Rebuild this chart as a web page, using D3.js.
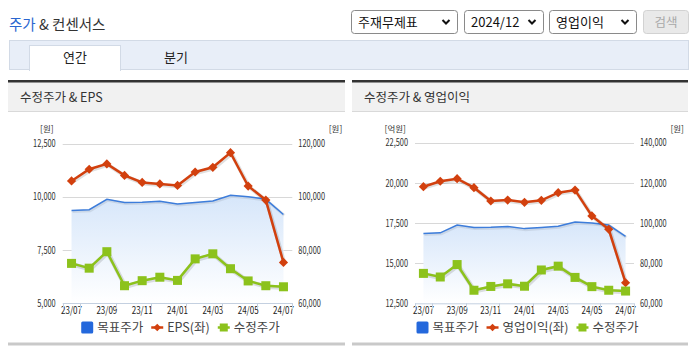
<!DOCTYPE html>
<html><head><meta charset="utf-8">
<script src="https://cdn.jsdelivr.net/npm/d3@7/dist/d3.min.js"></script>
<style>
html,body{margin:0;padding:0;background:#fff;}
svg{display:block;}
text{font-family:"Noto Sans CJK KR","Noto Sans",sans-serif;}
</style></head>
<body>
<svg id="c" width="695" height="349"></svg>
<script>
// ---------- data ----------
const categories = ["23/07","23/08","23/09","23/10","23/11","23/12","24/01","24/02","24/03","24/04","24/05","24/06","24/07"];
const targetPrice = [94800, 95100, 99000, 97800, 97900, 98300, 97200, 97800, 98400, 100500, 100000, 99000, 93300];
const adjPrice    = [74900, 73100, 79300, 66500, 68400, 69700, 68500, 76600, 78500, 72900, 68300, 66500, 66100];
const eps         = [10740, 11290, 11540, 11000, 10670, 10600, 10530, 11160, 11380, 12070, 10500, 9840, 6910];
const opIncome    = [19760, 20100, 20260, 19700, 18870, 18930, 18790, 18910, 19390, 19550, 17940, 17110, 13780];
const epsTicks = [5000, 7500, 10000, 12500];
const priceTicksA = [60000, 80000, 100000, 120000];
const opTicks = [12500, 15000, 17500, 20000, 22500];
const priceTicksB = [60000, 80000, 100000, 120000, 140000];
const xLabels = ["23/07","23/09","23/11","24/01","24/03","24/05","24/07"];
const selectTexts = ["주재무제표", "2024/12", "영업이익"];
const tabs = ["연간", "분기"];

const svg = d3.select("#c");
const fmt = d3.format(",");

function narrow(sel, f){
  sel.each(function(){
    const w = this.getComputedTextLength();
    this.setAttribute("textLength", (w*f).toFixed(2));
    this.setAttribute("lengthAdjust", "spacingAndGlyphs");
  });
}
const diamond = r => `M0,${-r} L${r},0 L0,${r} L${-r},0 Z`;

// ---------- header ----------
const title = svg.append("text").attr("x", 9).attr("y", 30).attr("font-size", 14.5).attr("fill", "#333");
title.append("tspan").attr("fill", "#2a66d0").text("주가");
title.append("tspan").text(" & 컨센서스");

const selBoxes = [[351, 106], [464, 79], [549, 87]];
selBoxes.forEach((b, i) => {
  const g = svg.append("g");
  g.append("rect").attr("x", b[0] + 0.5).attr("y", 10.5).attr("width", b[1]).attr("height", 23)
    .attr("rx", 3).attr("fill", "#fff").attr("stroke", "#8a8a8a");
  g.append("text").attr("x", b[0] + 7).attr("y", 27).attr("font-size", 13).attr("fill", "#111").text(selectTexts[i]);
  const cx = b[0] + b[1] - 11;
  g.append("path").attr("d", `M${cx-3.5},${20} L${cx},${23.5} L${cx+3.5},${20}`)
    .attr("fill", "none").attr("stroke", "#111").attr("stroke-width", 2);
});
svg.append("rect").attr("x", 643.5).attr("y", 10.5).attr("width", 45).attr("height", 23).attr("rx", 3)
  .attr("fill", "#e9e9e9").attr("stroke", "#d2d2d2");
svg.append("text").attr("x", 666).attr("y", 27).attr("text-anchor", "middle").attr("font-size", 12.5)
  .attr("fill", "#a8a8a8").text("검색");

// tab bar
svg.append("rect").attr("x", 9.5).attr("y", 40.5).attr("width", 679).attr("height", 29)
  .attr("fill", "#e8eef8").attr("stroke", "#d2dae6");
svg.append("rect").attr("x", 29.5).attr("y", 45.5).attr("width", 91).attr("height", 25)
  .attr("fill", "#fff").attr("stroke", "#d2dae6");
svg.append("rect").attr("x", 30).attr("y", 69).attr("width", 90).attr("height", 3).attr("fill", "#fff");
svg.append("text").attr("x", 75).attr("y", 62).attr("text-anchor", "middle").attr("font-size", 13).attr("fill", "#222").text(tabs[0]);
svg.append("text").attr("x", 176).attr("y", 62).attr("text-anchor", "middle").attr("font-size", 13).attr("fill", "#222").text(tabs[1]);

// gradient for area
const defs = svg.append("defs");
const grad = defs.append("linearGradient").attr("id", "ag").attr("x1", 0).attr("y1", 0).attr("x2", 0).attr("y2", 1);
grad.append("stop").attr("offset", "0%").attr("stop-color", "#d6e6fa");
grad.append("stop").attr("offset", "100%").attr("stop-color", "#ffffff");

// ---------- chart ----------
function drawPanel(cfg){
  const g = svg.append("g");
  // panel header
  g.append("rect").attr("x", cfg.px).attr("y", 80).attr("width", cfg.pw).attr("height", 31).attr("fill", "#f1f1f1");
  g.append("rect").attr("x", cfg.px).attr("y", 80).attr("width", cfg.pw).attr("height", 2.5).attr("fill", "#333");
  g.append("rect").attr("x", cfg.px).attr("y", 111).attr("width", cfg.pw).attr("height", 1).attr("fill", "#d9d9d9");
  g.append("text").attr("x", cfg.px + 12).attr("y", 102).attr("font-size", 12.5).attr("fill", "#333").text(cfg.title);
  g.append("rect").attr("x", cfg.px).attr("y", 342.5).attr("width", cfg.pw).attr("height", 3).attr("fill", "#c9c9c9");

  const x = d3.scaleBand().domain(categories).range([cfg.x0, cfg.x1]).padding(0);
  const cx = d => x(d) + x.bandwidth()/2;
  const yL = d3.scaleLinear().domain(cfg.leftDomain).range([cfg.yBottom, cfg.yTop]);
  const yR = d3.scaleLinear().domain(cfg.rightDomain).range([cfg.yBottom, cfg.yTop]);

  // grid
  g.append("g").selectAll("line").data(cfg.leftTicks.slice(1)).join("line")
    .attr("x1", cfg.x0).attr("x2", cfg.x1).attr("y1", d => Math.round(yL(d)) + 0.5).attr("y2", d => Math.round(yL(d)) + 0.5)
    .attr("stroke", "#d8d8d8");

  // axis labels
  const la = g.append("g").attr("transform", `translate(${cfg.x0 - 7},0)`)
    .call(d3.axisLeft(yL).tickValues(cfg.leftTicks).tickFormat(fmt).tickSize(0).tickPadding(0));
  la.select(".domain").remove();
  la.selectAll("text").attr("font-size", 10).attr("fill", "#333").attr("font-family", "Liberation Sans, Arial, sans-serif");
  narrow(la.selectAll("text"), 0.74);
  const ra = g.append("g").attr("transform", `translate(${cfg.x1 + 6},0)`)
    .call(d3.axisRight(yR).tickValues(cfg.rightTicks).tickFormat(fmt).tickSize(0).tickPadding(0));
  ra.select(".domain").remove();
  ra.selectAll("text").attr("font-size", 10).attr("fill", "#333").attr("font-family", "Liberation Sans, Arial, sans-serif");
  narrow(ra.selectAll("text"), 0.74);

  // units
  g.append("text").attr("x", cfg.x0 - 9).attr("y", 132).attr("text-anchor", "end").attr("font-size", 8.5).attr("fill", "#333").text(cfg.leftUnit);
  g.append("text").attr("x", cfg.x1 + 50).attr("y", 132).attr("text-anchor", "end").attr("font-size", 8.5).attr("fill", "#333").text(cfg.rightUnit);

  // area + target price line
  const area = d3.area().x(d => cx(d[0])).y0(cfg.yBottom).y1(d => yR(d[1]));
  const pairsT = categories.map((c, i) => [c, targetPrice[i]]);
  g.append("path").datum(pairsT).attr("d", area).attr("fill", "url(#ag)");
  const line = s => d3.line().x(d => cx(d[0])).y(d => s(d[1]));
  g.append("path").datum(pairsT).attr("d", line(yR)).attr("fill", "none")
    .attr("stroke", "rgba(0,0,0,0.08)").attr("stroke-width", 3).attr("transform", "translate(1,1)");
  g.append("path").datum(pairsT).attr("d", line(yR)).attr("fill", "none").attr("stroke", "#3d7ddb").attr("stroke-width", 1.5);

  // x axis
  const xa = g.append("g").attr("transform", `translate(0,${cfg.yBottom})`)
    .call(d3.axisBottom(x).tickValues(xLabels).tickSize(0).tickPadding(4));
  xa.select(".domain").remove();
  xa.selectAll("text").attr("font-size", 10).attr("fill", "#222").attr("font-family", "Liberation Sans, Arial, sans-serif");
  narrow(xa.selectAll("text"), 0.8);
  g.append("line").attr("x1", cfg.x0).attr("x2", cfg.x1).attr("y1", cfg.yBottom + 0.5).attr("y2", cfg.yBottom + 0.5).attr("stroke", "#c4d0e0");
  const tickCats = categories.filter((c, i) => i % 2 === 1);
  const tickXs = [cfg.x0].concat(tickCats.map(c => x(c))).concat([cfg.x1]);
  g.append("g").selectAll("line").data(tickXs).join("line")
    .attr("x1", d => Math.round(d) + 0.5).attr("x2", d => Math.round(d) + 0.5)
    .attr("y1", cfg.yBottom).attr("y2", cfg.yBottom + 6).attr("stroke", "#c4d0e0");

  // left-axis series (red)
  const pairsL = categories.map((c, i) => [c, cfg.leftSeries[i]]);
  g.append("path").datum(pairsL).attr("d", line(yL)).attr("fill", "none")
    .attr("stroke", "rgba(0,0,0,0.12)").attr("stroke-width", 4).attr("transform", "translate(1,1)");
  g.append("path").datum(pairsL).attr("d", line(yL)).attr("fill", "none").attr("stroke", "#d2400e").attr("stroke-width", 2.5);
  g.append("g").selectAll("path").data(pairsL).join("path")
    .attr("d", diamond(4.6)).attr("fill", "#d2400e")
    .attr("transform", d => `translate(${cx(d[0])},${yL(d[1])})`);

  // adjusted price (green)
  const pairsA = categories.map((c, i) => [c, adjPrice[i]]);
  g.append("path").datum(pairsA).attr("d", line(yR)).attr("fill", "none")
    .attr("stroke", "rgba(0,0,0,0.12)").attr("stroke-width", 4.5).attr("transform", "translate(1,1)");
  g.append("path").datum(pairsA).attr("d", line(yR)).attr("fill", "none").attr("stroke", "#8cc21c").attr("stroke-width", 2.5);
  g.append("g").selectAll("rect").data(pairsA).join("rect")
    .attr("x", d => cx(d[0]) - 4.5).attr("y", d => yR(d[1]) - 4.5).attr("width", 9).attr("height", 9).attr("fill", "#8cc21c");

  // legend
  const lg = g.append("g");
  const items = [{t: "목표주가", k: "sq"}, {t: cfg.leftName, k: "dia"}, {t: "수정주가", k: "gr"}];
  let xx = 0;
  const ly = 327.5;
  items.forEach(it => {
    const ig = lg.append("g").attr("transform", `translate(${xx},0)`);
    if (it.k === "sq") {
      ig.append("rect").attr("x", 0).attr("y", ly - 6).attr("width", 12).attr("height", 12).attr("rx", 1.5).attr("fill", "#2468dc");
    } else if (it.k === "dia") {
      ig.append("line").attr("x1", 0).attr("x2", 12).attr("y1", ly).attr("y2", ly).attr("stroke", "#d2400e").attr("stroke-width", 2.5);
      ig.append("path").attr("d", diamond(3.8)).attr("fill", "#d2400e").attr("transform", `translate(6,${ly})`);
    } else {
      ig.append("line").attr("x1", 0).attr("x2", 12).attr("y1", ly).attr("y2", ly).attr("stroke", "#8cc21c").attr("stroke-width", 2.5);
      ig.append("rect").attr("x", 2).attr("y", ly - 4).attr("width", 8).attr("height", 8).attr("fill", "#8cc21c");
    }
    const t = ig.append("text").attr("x", 16).attr("y", ly + 4.5).attr("font-size", 12.5).attr("fill", "#444").text(it.t);
    xx += 16 + t.node().getComputedTextLength() + 8;
  });
  const total = xx - 8;
  const center = (cfg.x0 + cfg.x1) / 2 + 3;
  lg.attr("transform", `translate(${center - total/2},0)`);
}

drawPanel({px: 8, pw: 337, x0: 62.7, x1: 292.3, yTop: 143.5, yBottom: 303,
  leftDomain: [5000, 12500], rightDomain: [60000, 120000], leftTicks: epsTicks, rightTicks: priceTicksA,
  leftSeries: eps, leftName: "EPS(좌)", title: "수정주가 & EPS", leftUnit: "[원]", rightUnit: "[원]"});
drawPanel({px: 352, pw: 336, x0: 415, x1: 634, yTop: 142.7, yBottom: 303.3,
  leftDomain: [12500, 22500], rightDomain: [60000, 140000], leftTicks: opTicks, rightTicks: priceTicksB,
  leftSeries: opIncome, leftName: "영업이익(좌)", title: "수정주가 & 영업이익", leftUnit: "[억원]", rightUnit: "[원]"});
</script>
</body></html>
